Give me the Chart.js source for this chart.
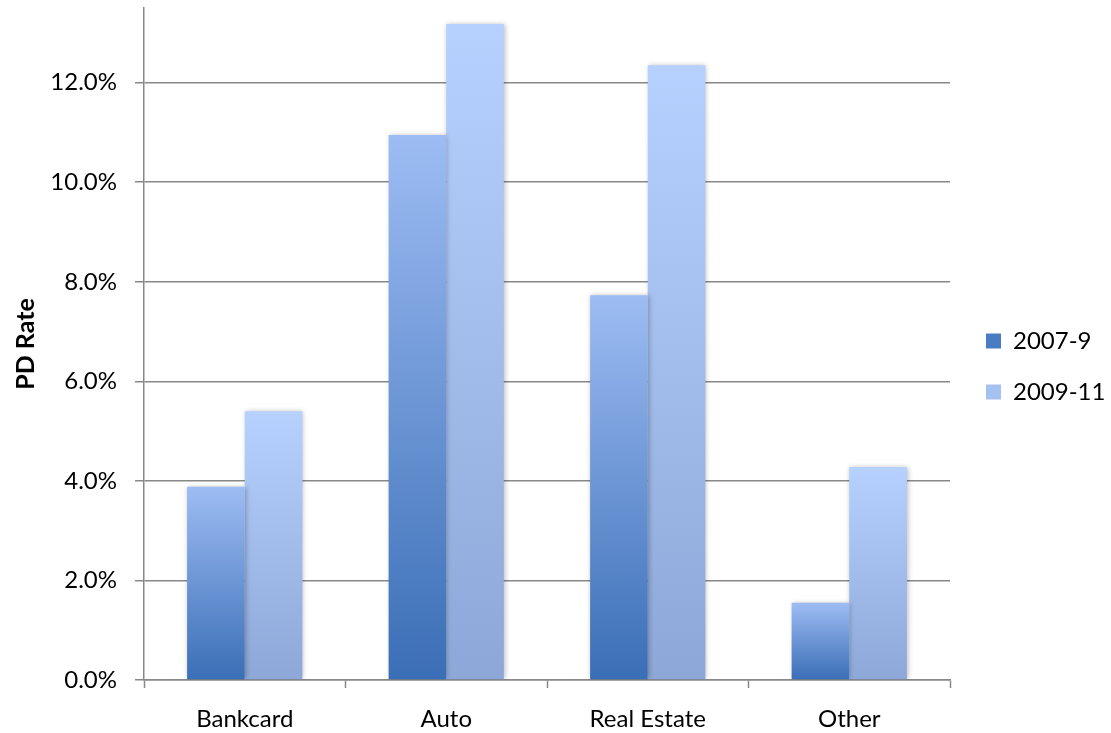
<!DOCTYPE html>
<html>
<head>
<meta charset="utf-8">
<script src="https://cdn.jsdelivr.net/npm/chart.js@4"></script>
<style>
html,body{margin:0;padding:0;background:#fff;}
#wrap{width:1111px;height:733px;}
</style>
</head>
<body>
<div id="wrap"><canvas id="c" width="1111" height="733"></canvas></div>
<script>
const categories = ["Bankcard", "Auto", "Real Estate", "Other"];
const seriesNames = ["2007-9", "2009-11"];
const values2007_9 = [3.88, 10.95, 7.73, 1.55];
const values2009_11 = [5.40, 13.18, 12.35, 4.28];
const yTickValues = [0, 2, 4, 6, 8, 10, 12];

function barGradient(ctx, topColor, bottomColor) {
  const chart = ctx.chart;
  if (!chart.chartArea || ctx.raw === undefined) return bottomColor;
  const y = chart.scales.y;
  const yTop = y.getPixelForValue(ctx.raw);
  const yBase = y.getPixelForValue(0);
  if (!isFinite(yTop) || !isFinite(yBase) || yTop === yBase) return bottomColor;
  const g = chart.ctx.createLinearGradient(0, yBase, 0, yTop);
  g.addColorStop(0, bottomColor);
  g.addColorStop(1, topColor);
  return g;
}

const shadowPlugin = {
  id: 'barShadow',
  beforeDatasetsDraw(chart) {
    const c = chart.ctx;
    c.save();
    c.shadowColor = 'rgba(0,0,0,0.28)';
    c.shadowBlur = 5;
    c.shadowOffsetX = 1;
    c.shadowOffsetY = 0;
  },
  afterDatasetsDraw(chart) {
    chart.ctx.restore();
  }
};

const LEGEND_WIDTH = 161;
const LEGEND_SHIFT_X = 9;
const LEGEND_SHIFT_Y = -4;
const legendLayoutPlugin = {
  id: 'legendLayout',
  beforeLayout(chart) {
    const lg = chart.legend;
    if (lg && !lg._patchedFit) {
      const origFit = lg.fit;
      lg.fit = function () {
        origFit.call(this);
        this.width = LEGEND_WIDTH;
      };
      lg._patchedFit = true;
    }
  },
  afterLayout(chart) {
    const lg = chart.legend;
    if (lg) {
      lg.left += LEGEND_SHIFT_X;
      lg.right += LEGEND_SHIFT_X;
      lg.top += LEGEND_SHIFT_Y;
      lg.bottom += LEGEND_SHIFT_Y;
    }
  }
};

const legendColors = ['#4a7cc2', '#a6c1ef'];

new Chart(document.getElementById('c'), {
  type: 'bar',
  data: {
    labels: categories,
    datasets: [
      {
        label: seriesNames[0],
        data: values2007_9,
        backgroundColor: (ctx) => barGradient(ctx, '#9dbcf3', '#3a6eb6'),
        borderWidth: 0,
        categoryPercentage: 0.572,
        barPercentage: 1.0
      },
      {
        label: seriesNames[1],
        data: values2009_11,
        backgroundColor: (ctx) => barGradient(ctx, '#b6d1fe', '#8da8d8'),
        borderWidth: 0,
        categoryPercentage: 0.572,
        barPercentage: 1.0
      }
    ]
  },
  options: {
    responsive: false,
    animation: false,
    devicePixelRatio: 1,
    layout: { padding: { top: 8, right: 0, left: 0, bottom: 0 } },
    plugins: {
      tooltip: { enabled: false },
      legend: {
        position: 'right',
        align: 'center',
        labels: {
          font: { family: 'Lato', size: 24 },
          color: '#000',
          boxWidth: 15,
          boxHeight: 15,
          padding: 27,
          generateLabels(chart) {
            return chart.data.datasets.map((ds, i) => ({
              text: ds.label,
              fillStyle: legendColors[i],
              strokeStyle: legendColors[i],
              lineWidth: 0,
              hidden: false,
              datasetIndex: i,
              fontColor: '#000'
            }));
          }
        }
      }
    },
    scales: {
      x: {
        offset: true,
        grid: {
          offset: true,
          drawOnChartArea: false,
          drawTicks: true,
          tickLength: 8,
          tickColor: '#888',
          tickWidth: 1.5
        },
        border: { color: '#888', width: 1.5 },
        ticks: {
          font: { family: 'Lato', size: 24 },
          color: '#000',
          padding: 17
        },
        afterFit(scale) { scale.height = 53; }
      },
      y: {
        min: 0,
        max: 13.5,
        afterBuildTicks(scale) {
          scale.ticks = yTickValues.map(v => ({ value: v }));
        },
        grid: {
          color: '#888',
          lineWidth: 1.5,
          drawTicks: true,
          tickLength: 9,
          tickColor: '#888'
        },
        border: { color: '#888', width: 1.5 },
        ticks: {
          font: { family: 'Lato', size: 24 },
          color: '#000',
          padding: 18,
          callback: (v) => Number(v).toFixed(1) + '%'
        },
        title: {
          display: true,
          text: 'PD Rate',
          font: { family: 'Lato', size: 25, weight: 'bold' },
          color: '#000',
          padding: { top: 11, bottom: 0 }
        },
        afterFit(scale) {
          scale.width = 144;
          scale.paddingTop = 0;
          scale.paddingBottom = 0;
        }
      }
    }
  },
  plugins: [shadowPlugin, legendLayoutPlugin]
});
</script>
</body>
</html>
